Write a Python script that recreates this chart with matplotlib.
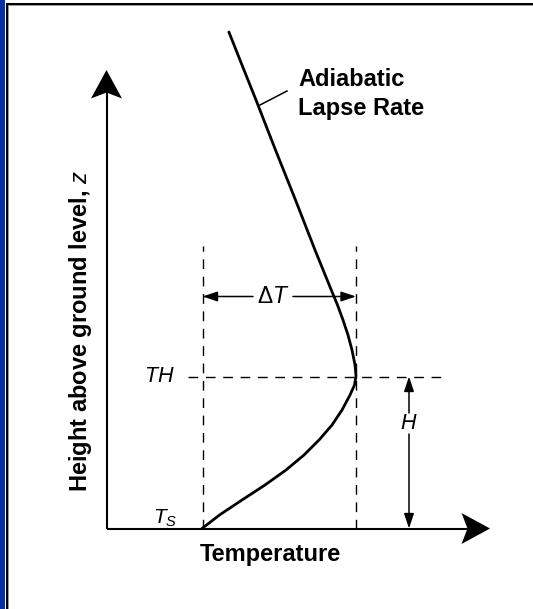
import matplotlib
matplotlib.use("Agg")
import matplotlib.pyplot as plt
from matplotlib.patches import Polygon, Rectangle

plt.rcParams['font.family'] = ['Liberation Sans', 'DejaVu Sans']
plt.rcParams['mathtext.fontset'] = 'custom'
plt.rcParams['mathtext.rm'] = 'Liberation Sans'
plt.rcParams['mathtext.it'] = 'Liberation Sans:italic'
plt.rcParams['mathtext.bf'] = 'Liberation Sans:bold'

# ---- data (diagram units; origin at the axes corner) ----
profile_height = [496.5, 468.5, 428.5, 378.5, 328.5, 278.5, 235.5, 223.5, 208.5,
                  193.5, 178.5, 163.5, 152.5, 143.5, 133.5, 118.5, 103.5, 88.5,
                  73.5, 58.5, 43.5, 28.5, 13.5, 0.0]
profile_temp = [122.4, 133.5, 149.5, 169.0, 189.0, 208.5, 226.0, 231.0, 236.5,
                241.5, 245.5, 248.5, 249.5, 248.0, 243.5, 235.5, 225.5, 212.5,
                197.5, 179.5, 158.5, 135.5, 113.0, 95.5]
T_surface = 96.0      # Ts
T_max = 249.5         # temperature at top of inversion
H_top = 152.0         # TH height
labels = {"x": "Temperature", "y": r"Height above ground level, $\mathit{z}$",
          "curve1": "Adiabatic", "curve2": "Lapse Rate",
          "ts": r"$T_S$", "th": r"$TH$", "dT": r"$\Delta T$", "H": r"$H$"}

W, Hpx = 533, 609
X0, Y0 = 106.5, 528.5   # pixel position of origin

fig = plt.figure(figsize=(W / 100, Hpx / 100), dpi=100)
fig.patch.set_facecolor('white')
ax = fig.add_axes([0, 0, 1, 1])
ax.set_xlim(-X0, W - X0)
ax.set_ylim(-(Hpx - Y0), Y0)
ax.axis('off')

# border decorations (figure pixels)
def frect(x, y, w, h, color):
    fig.patches.append(Rectangle((x / W, 1 - (y + h) / Hpx), w / W, h / Hpx,
                                 transform=fig.transFigure, color=color, lw=0))
frect(0, 0, 5, Hpx, '#0a31a3')
frect(6, 3, 2, Hpx - 3, 'black')
frect(8, 5, 1, Hpx - 5, '#9a9a9a')
frect(6, 3, W - 6, 2, 'black')
frect(8, 5, W - 8, 1, '#9a9a9a')

k = 'black'
# axes lines
y_tip, x_tip = 458.5, 383.5
ax.plot([0, 0], [0, y_tip - 10], color=k, lw=1.5, solid_capstyle='butt')
ax.plot([0, x_tip - 10], [0, 0], color=k, lw=1.5, solid_capstyle='butt')
# stealth arrowheads
L, hw, notch = 28.5, 15.5, 6
ax.add_patch(Polygon([(0, y_tip), (-hw, y_tip - L), (0, y_tip - L + notch), (hw, y_tip - L)],
                     closed=True, color=k, lw=0))
ax.add_patch(Polygon([(x_tip, 0), (x_tip - L, hw), (x_tip - L + notch, 0), (x_tip - L, -hw)],
                     closed=True, color=k, lw=0))

# profile curve
ax.plot(profile_temp, profile_height, color=k, lw=2.0, solid_capstyle='round', solid_joinstyle='round')

# dashed guide lines
dash = dict(color=k, lw=1.0, dashes=(7, 5.5))
ax.plot([T_surface, T_surface], [0, 282.5], **dash)
ax.plot([T_max, T_max], [0, 282.5], **dash)
ax.plot([81.5, 335], [H_top, H_top], **dash)

# dimension arrows
ap = dict(arrowstyle='-|>,head_length=0.6,head_width=0.2', lw=1.1, color=k,
          shrinkA=0, shrinkB=0, mutation_scale=15)
dT_y = 232
ax.annotate('', xy=(T_surface, dT_y), xytext=(146.5, dT_y), arrowprops=ap)
ax.annotate('', xy=(T_max, dT_y), xytext=(186.5, dT_y), arrowprops=ap)
ax.text((146.5 + 186.5) / 2, dT_y, labels["dT"], fontsize=16.5, ha='center', va='center')
H_x = 302.5
ax.annotate('', xy=(H_x, H_top), xytext=(H_x, 115.5), arrowprops=ap)
ax.annotate('', xy=(H_x, 0), xytext=(H_x, 94.5), arrowprops=ap)
ax.text(H_x, 105, labels["H"], fontsize=15.5, ha='center', va='center')

# labels
ax.text(68.5, H_top, labels["th"], fontsize=15.5, ha='right', va='center')
ax.text(46.5, 10, labels["ts"], fontsize=15, ha='left', va='center')
ax.text(191.5, 442.5, labels["curve1"], fontsize=17, fontweight='bold', va='baseline')
ax.text(191.5, 413.5, labels["curve2"], fontsize=17, fontweight='bold', va='baseline')
ax.plot([153.5, 180.5], [423.5, 437.5], color=k, lw=1.1)
ax.text(164, -32.5, labels["x"], fontsize=17, fontweight='bold', ha='center', va='baseline')
ax.text(-26, 197.0, labels["y"], fontsize=17, fontweight='bold', ha='center', va='center',
        rotation=90)

fig.savefig('out.png', dpi=100)
